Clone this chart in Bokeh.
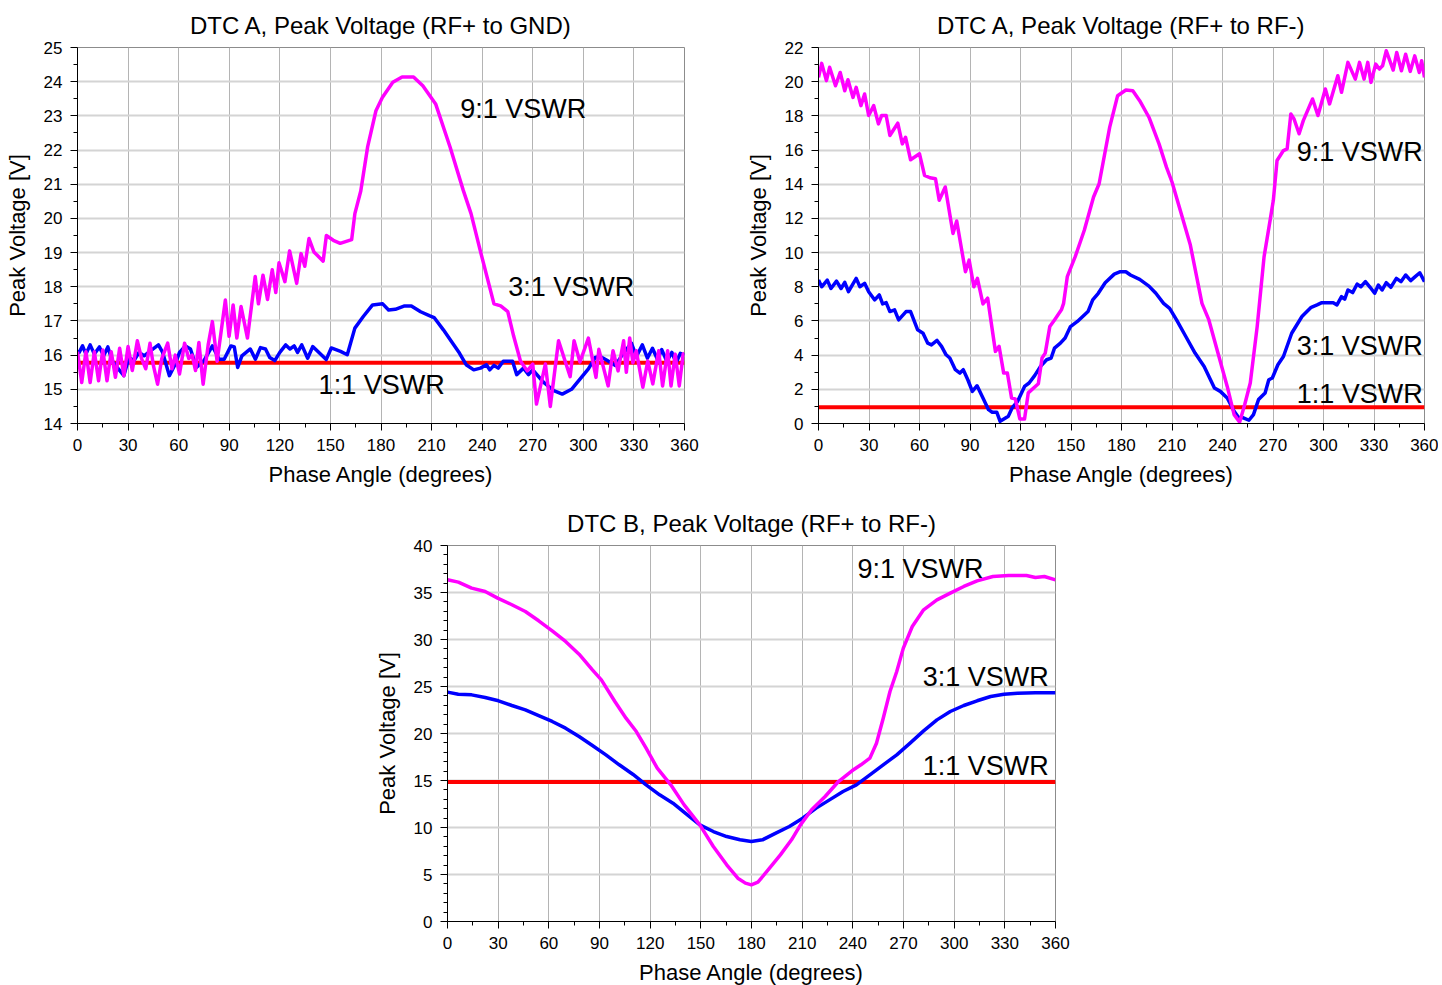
from bokeh.plotting import figure
from bokeh.models import Range1d, FixedTicker, Label, Spacer
from bokeh.layouts import column, row
from bokeh.embed import file_html
from bokeh.resources import INLINE

FONT = "Liberation Sans"

# ---------------- Data: DTC A, RF+ to GND ----------------
a_gnd_9_x = [0, 2.5, 5, 7.5, 10, 12.5, 15, 17.5, 20, 22.5, 25, 27.5, 30, 32.5,
             35.5, 38, 40.5, 43, 45, 47.5, 50, 53.5, 56, 58, 60.5, 63.5, 66, 68, 70, 72, 74.5, 77.5,
             80, 82.8, 87.7, 89.9, 92.3, 94.5, 97, 100.8, 105.4, 107.3, 110, 112.7, 115.5, 117.6,
             119.5, 123, 125.8, 130, 132.6, 134.8, 137.3, 140.2, 145.7, 147.6, 151.7, 155.8, 162.6,
             164.5, 168, 172.1, 177, 180.8, 187, 192.5, 199.3, 204.8, 212.4, 221, 228.8, 233.4,
             238.8, 247, 251, 255.2, 258.7, 262.7, 266.7, 270, 272.2, 277.5, 280.4, 285.3, 292.2,
             294.5, 298, 303, 307.5, 309.2, 314.7, 317.6, 320.6, 323.9, 325.5, 327.5, 329.4, 331.4,
             335.3, 338.2, 341.2, 344.7, 347, 350, 352, 354.5, 356.9, 359.2, 360]
a_gnd_9_y = [16.1, 15.2, 16.1, 15.2, 16.1, 15.25, 16.15, 15.25, 16.1, 15.35, 16.2, 15.4, 16.25, 15.55,
             16.42, 15.9, 15.6, 16.35, 15.7, 15.15, 15.9, 16.35, 15.6, 16.0, 15.45, 16.35, 15.9, 16.0,
             15.55, 16.37, 15.15, 16.3,
             16.98, 15.82, 17.61, 16.55, 17.47, 16.5, 17.42, 16.5, 18.3, 17.5, 18.34, 17.63, 18.5, 17.83,
             18.7, 18.15, 19.05, 18.1, 18.97, 18.6, 19.41, 19.02, 18.75, 19.5, 19.36, 19.27, 19.38,
             20.14, 20.8, 22.1, 23.15, 23.54, 23.98, 24.14, 24.14, 23.88, 23.35, 22.08, 20.82, 20.14,
             19.07, 17.5, 17.44, 17.27, 16.55, 15.83, 15.54, 15.74, 14.57, 15.74, 14.5, 16.42, 15.37,
             16.42, 15.8, 16.5, 15.35, 16.17, 15.1, 16.13, 15.54, 16.42, 15.5, 16.5, 15.78, 16.13,
             15.06, 15.83, 15.16, 16.13, 15.1, 16.13, 15.1, 16.03, 15.1, 16.03, 16.05]

a_gnd_3_x = [0, 1, 3, 5, 7.5, 10, 13, 15.5, 18, 20.5, 23.5, 27.5, 30.5, 33.5, 36.5, 39.5, 43.5, 48,
             50.5, 54.5, 58, 60.5, 64, 67, 70.5, 75, 80, 84, 87, 91, 93, 95, 97.5, 102.5, 105.5,
             108.5, 111.5, 114, 117, 120, 123.5, 126, 128.5, 130.5, 133, 136.5, 139.5, 143.5, 147.5,
             150.5, 156, 160, 164.5, 169.5, 175, 181, 184.5, 188.5, 194, 198, 203.5, 209, 211.5, 217,
             222.5, 226.5, 230.5, 235, 239, 242.5, 244.5, 247, 249.5, 252.5, 258, 260.5, 264.5, 267.5,
             270, 276.5, 282.5, 287.5, 293, 298, 303, 307, 310, 314, 319, 323, 328.5, 331.5, 335,
             338, 341, 344, 346.5, 349.5, 352.5, 355, 357.5, 360]
a_gnd_3_y = [16.1, 16.08, 16.27, 16.03, 16.3, 16.03, 16.24, 15.98, 16.24, 15.84, 15.64, 15.4, 15.93,
             15.84, 16.08, 15.98, 16.13, 16.3, 16.08, 15.4, 15.74, 16.08, 16.27, 16.18, 15.64, 15.84,
             16.27, 15.88, 15.88, 16.27, 16.24, 15.64, 15.98, 16.18, 15.88, 16.22, 16.18, 15.93, 15.84,
             16.08, 16.3, 16.18, 16.27, 16.08, 16.3, 15.91, 16.25, 16.06, 15.87, 16.21, 16.11, 16.01,
             16.79, 17.13, 17.47, 17.5, 17.32, 17.34, 17.44, 17.44, 17.27, 17.15, 17.1, 16.74, 16.35,
             16.06, 15.72, 15.57, 15.62, 15.72, 15.57, 15.7, 15.62, 15.82, 15.82, 15.43, 15.62, 15.43,
             15.57, 15.2, 14.96, 14.86, 15.0, 15.3, 15.6, 15.93, 15.96, 15.85, 15.7, 16.0, 16.35, 15.96,
             16.3, 15.91, 16.2, 15.87, 16.16, 15.82, 16.08, 15.78, 16.05, 16.0]

a_gnd_1_x = [0, 360]
a_gnd_1_y = [15.78, 15.78]

# ---------------- Data: DTC A, RF+ to RF- ----------------
a_rf_9_x = [0, 1.9, 4.7, 6.6, 10.1, 12.9, 15.6, 17.5, 20.5, 22.4, 25.2, 27.4, 29.8, 32.8, 35.6, 37.5,
            40.2, 42.4, 47.1, 49.8, 51.7, 54.7, 60, 63, 66.2, 69.5, 71.7, 75.3, 79.9, 82.1, 87.3,
            89.5, 92.3, 94.4, 97.7, 100.5, 105.1, 107.3, 110, 112.2, 114.7, 116.9, 119.6, 122.4,
            124.6, 130.6, 132.8, 134.7, 137.4, 140.2, 144.3, 145.6, 147.8, 152.5, 157.9, 163.4,
            166.7, 173, 177.7, 182.6, 186.7, 190.8, 196.3, 202.3, 206.7, 210, 214.9, 220.9, 227.8,
            231.9, 237.3, 242.8, 246.9, 250.2, 253.2, 256.5, 260.6, 264.7, 268.3, 270.2, 272.4,
            276.2, 278.4, 280.6, 282.5, 285.5, 288, 293.5, 296.7, 301.1, 303.6, 308.5, 310.7, 314.5,
            318.9, 321.4, 324.1, 326.3, 328.2, 331, 333.2, 335.1, 337.3, 341.4, 343.5, 346.3, 348.8,
            351.5, 354.2, 356.9, 358.3, 360]
a_rf_9_y = [20.25, 21.07, 20.06, 20.84, 19.76, 20.54, 19.47, 20.11, 19.08, 19.67, 18.6, 19.28, 18.02,
            18.6, 17.53, 18.02, 18.02, 16.85, 17.57, 16.36, 16.75, 15.43, 15.78, 14.52, 14.38, 14.32,
            13.06, 13.84, 11.12, 11.85, 8.88, 9.56, 8.0, 8.49, 7.0, 7.33, 4.22, 4.51, 2.95, 2.95,
            1.49, 1.44, 0.27, 0.27, 1.79, 2.33, 3.83, 4.12, 5.67, 6.06, 6.65, 7.03, 8.59, 9.76, 11.31,
            13.25, 14.03, 17.34, 19.18, 19.51, 19.47, 18.89, 17.92, 16.36, 15.0, 14.13, 12.48, 10.44,
            7.03, 6.06, 4.12, 2.17, 0.52, 0.08, 1.11, 2.37, 5.67, 9.76, 11.9, 13.06, 15.39, 15.97,
            16.07, 18.11, 17.82, 16.95, 17.72, 18.99, 18.02, 19.57, 18.7, 20.35, 19.38, 21.13, 20.15,
            21.13, 20.15, 21.13, 19.96, 21.03, 20.74, 20.93, 21.81, 20.68, 21.71, 20.64, 21.61, 20.6,
            21.51, 20.54, 21.22, 20.25]

a_rf_3_x = [0, 1.9, 5.2, 7.4, 10.7, 13.4, 15.6, 17.8, 22.4, 24.6, 27.4, 29.8, 33.4, 36.1, 38.1, 40.2,
            42.4, 45.2, 47.6, 52, 54.7, 58.9, 62.1, 64.9, 67.1, 70.4, 73.1, 75.8, 78, 81.3, 84, 86,
            88.7, 91.4, 94.2, 97.7, 101, 103.2, 105.9, 107.9, 112.8, 115, 118.3, 122.4, 125.1,
            128.4, 131.9, 135.5, 138.2, 140.2, 143.7, 146.5, 149.7, 153.8, 157.9, 160.1, 162.9,
            166.2, 170.3, 175.7, 179.3, 182.6, 185.3, 190.8, 196.3, 200.4, 205, 208.6, 212.7, 218.2,
            223.7, 229.1, 235.2, 238.7, 242.8, 246.9, 249.7, 252.4, 255.7, 258.4, 261.4, 265.3,
            267.5, 269.6, 272.9, 276.2, 281.1, 287.2, 292.7, 296.2, 299, 305.8, 308, 310.7, 312.6,
            314.5, 317.3, 320, 322.2, 324.9, 327.7, 330.4, 332.6, 334.8, 337.3, 340, 343.3, 346,
            348.8, 351.8, 354.5, 357.2, 360]
a_rf_3_y = [8.39, 8.0, 8.39, 7.9, 8.33, 7.9, 8.26, 7.71, 8.49, 8.0, 8.2, 7.71, 7.23, 7.52, 7.0, 7.07,
            6.55, 6.65, 6.06, 6.55, 6.55, 5.48, 5.28, 4.7, 4.6, 4.86, 4.51, 4.02, 3.83, 3.15, 2.95,
            3.15, 2.56, 1.88, 2.21, 1.49, 0.81, 0.66, 0.66, 0.13, 0.43, 0.91, 1.3, 2.17, 2.37, 2.8,
            3.34, 3.73, 3.83, 4.41, 4.7, 5.0, 5.67, 5.97, 6.35, 6.55, 7.23, 7.62, 8.24, 8.74, 8.88,
            8.88, 8.69, 8.43, 8.04, 7.62, 7.03, 6.74, 6.06, 5.09, 4.12, 3.34, 2.08, 1.88, 1.49, 0.72,
            0.33, 0.33, 0.19, 0.52, 1.4, 1.79, 2.56, 2.66, 3.44, 3.92, 5.28, 6.26, 6.8, 6.94, 7.07,
            7.07, 6.94, 7.42, 7.27, 7.81, 7.66, 8.16, 8.0, 8.3, 7.97, 7.62, 8.1, 7.81, 8.24, 7.97,
            8.49, 8.3, 8.69, 8.36, 8.59, 8.82, 8.3]

a_rf_1_x = [0, 360]
a_rf_1_y = [0.95, 0.95]

# ---------------- Data: DTC B, RF+ to RF- ----------------
b_rf_9_x = [0, 6.4, 14.3, 22.3, 29.7, 38.1, 46.1, 54, 62, 69.9, 77.9, 85.8, 91.1, 99.1, 105.7, 111.8,
            117.6, 124.2, 132.2, 140.1, 149.4, 157.4, 165.3, 171.9, 176.4, 179.9, 183.8, 189.1,
            197.1, 203.7, 209, 215.6, 223.6, 231.5, 239.5, 244.8, 250.1, 254, 258, 262, 266, 269.9,
            275.2, 281.9, 289.8, 297.7, 305.7, 313.6, 322.9, 332.2, 342.8, 348.1, 353.4, 360]
b_rf_9_y = [36.35, 36.1, 35.46, 35.1, 34.4, 33.7, 32.98, 31.99, 30.92, 29.79, 28.44, 26.77, 25.71,
            23.4, 21.63, 20.21, 18.44, 16.31, 14.54, 12.41, 10.28, 7.98, 6.03, 4.61, 4.08, 3.9, 4.18,
            5.32, 7.09, 8.69, 10.28, 11.88, 13.3, 14.89, 16.03, 16.67, 17.38, 18.97, 21.63, 24.47,
            26.6, 29.08, 31.38, 33.16, 34.22, 34.93, 35.64, 36.24, 36.7, 36.81, 36.81, 36.6, 36.7,
            36.35]

b_rf_3_x = [0, 6.4, 14.3, 22.3, 30.2, 38.1, 46.1, 54, 62, 69.9, 77.9, 85.8, 93.8, 101.7, 109.7,
            117.6, 125.6, 133.5, 141.5, 149.4, 157.4, 165.3, 173.2, 179.9, 186.5, 194.4, 202.4,
            210.3, 218.3, 226.2, 234.2, 242.1, 250.1, 258, 266, 273.9, 281.9, 289.8, 297.7, 305.7,
            313.6, 321.6, 329.5, 337.5, 348.1, 360]
b_rf_3_y = [24.4, 24.18, 24.11, 23.83, 23.48, 22.98, 22.52, 21.91, 21.28, 20.57, 19.68, 18.72, 17.73,
            16.67, 15.67, 14.54, 13.48, 12.59, 11.42, 10.28, 9.57, 9.04, 8.69, 8.51, 8.69, 9.4, 10.11,
            10.99, 12.06, 12.94, 13.83, 14.54, 15.6, 16.67, 17.73, 18.97, 20.28, 21.45, 22.34, 22.98,
            23.48, 23.94, 24.18, 24.29, 24.33, 24.33]

b_rf_1_x = [0, 360]
b_rf_1_y = [14.85, 14.85]

x_ticks = list(range(0, 361, 30))
x_minor = list(range(15, 360, 30))

MAGENTA = "#ff00ff"
BLUE = "#0000ff"
RED = "#ff0000"


def make_fig(title, ymin, ymax, ymajor, yminor, bl, br, bt, bb, fw, fh):
    p = figure(frame_width=fw, frame_height=fh, output_backend="svg", toolbar_location=None,
               x_range=Range1d(0, 360), y_range=Range1d(ymin, ymax), title=title,
               min_border_left=bl, min_border_right=br, min_border_top=bt, min_border_bottom=bb,
               background_fill_color="white", border_fill_color="white")
    p.title.text_font = FONT
    p.title.text_font_size = "24px"
    p.title.text_font_style = "normal"
    p.title.align = "center"
    p.title.text_color = "black"
    p.title.standoff = 18
    p.outline_line_color = "#8c8c8c"
    p.outline_line_width = 1

    for ax in (p.xaxis[0], p.yaxis[0]):
        ax.axis_line_color = "black"
        ax.major_tick_line_color = "black"
        ax.minor_tick_line_color = "black"
        ax.major_tick_out = 7
        ax.major_tick_in = 0
        ax.minor_tick_out = 4
        ax.minor_tick_in = 0
        ax.major_label_text_font = FONT
        ax.major_label_text_font_size = "17px"
        ax.major_label_text_color = "black"
        ax.axis_label_text_font = FONT
        ax.axis_label_text_font_size = "22px"
        ax.axis_label_text_font_style = "normal"
        ax.axis_label_text_color = "black"
    p.xaxis.ticker = FixedTicker(ticks=x_ticks, minor_ticks=x_minor)
    p.yaxis.ticker = FixedTicker(ticks=ymajor, minor_ticks=yminor)
    p.xaxis.axis_label = "Phase Angle (degrees)"
    p.yaxis.axis_label = "Peak Voltage [V]"
    p.xaxis.major_label_standoff = 8
    p.yaxis.major_label_standoff = 8
    p.xaxis.axis_label_standoff = 8
    p.yaxis.axis_label_standoff = 11

    p.xgrid.grid_line_color = "#b4b4b4"
    p.xgrid.grid_line_width = 1
    p.ygrid.grid_line_color = "#d4d4d4"
    p.ygrid.grid_line_width = 2
    return p


def add_lines(p, x9, y9, x3, y3, x1, y1):
    p.line(x1, y1, line_color=RED, line_width=4)
    p.line(x3, y3, line_color=BLUE, line_width=3.5, line_join="round")
    p.line(x9, y9, line_color=MAGENTA, line_width=3.5, line_join="round")


def add_label(p, x, y, text, align="left"):
    p.add_layout(Label(x=x, y=y, text=text, text_font=FONT, text_font_size="27px",
                       text_color="black", text_align=align, text_baseline="middle"))


# Top-left
p1 = make_fig("DTC A, Peak Voltage (RF+ to GND)", 14, 25, list(range(14, 26)),
              [v + 0.5 for v in range(14, 25)], 77, 56, 47, 72, 607, 376)
add_lines(p1, a_gnd_9_x, a_gnd_9_y, a_gnd_3_x, a_gnd_3_y, a_gnd_1_x, a_gnd_1_y)
add_label(p1, 227, 23.2, "9:1 VSWR")
add_label(p1, 255.5, 18.0, "3:1 VSWR")
add_label(p1, 143, 15.14, "1:1 VSWR")

# Top-right
p2 = make_fig("DTC A, Peak Voltage (RF+ to RF-)", 0, 22, list(range(0, 23, 2)),
              list(range(1, 22, 2)), 78, 14, 47, 72, 606, 376)
add_lines(p2, a_rf_9_x, a_rf_9_y, a_rf_3_x, a_rf_3_y, a_rf_1_x, a_rf_1_y)
add_label(p2, 359, 15.9, "9:1 VSWR", "right")
add_label(p2, 359, 4.56, "3:1 VSWR", "right")
add_label(p2, 359, 1.75, "1:1 VSWR", "right")

# Bottom
p3 = make_fig("DTC B, Peak Voltage (RF+ to RF-)", 0, 40, list(range(0, 41, 5)),
              [v for v in range(1, 40) if v % 5 != 0], 80, 50, 50, 62, 608, 376)
add_lines(p3, b_rf_9_x, b_rf_9_y, b_rf_3_x, b_rf_3_y, b_rf_1_x, b_rf_1_y)
add_label(p3, 242.7, 37.45, "9:1 VSWR")
add_label(p3, 356, 25.96, "3:1 VSWR", "right")
add_label(p3, 356, 16.5, "1:1 VSWR", "right")

layout = column(row(p1, p2), row(Spacer(width=367, height=10), p3))

open("out.html", "w").write(file_html(layout, INLINE))
